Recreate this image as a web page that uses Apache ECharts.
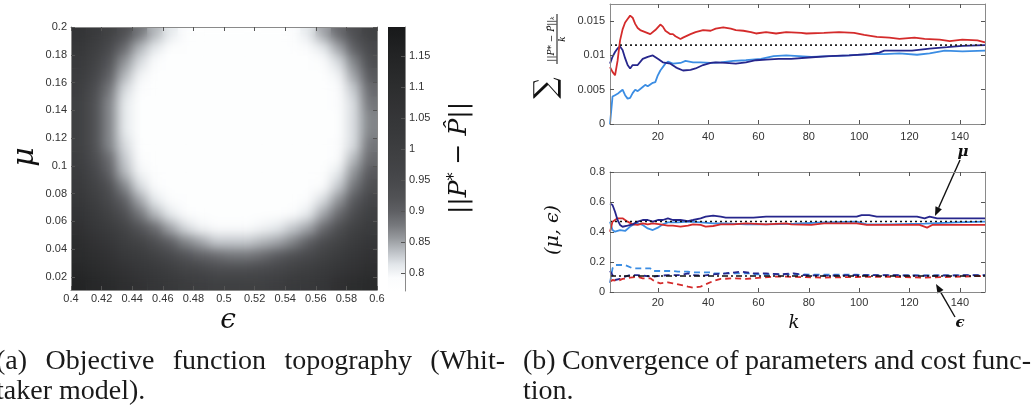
<!DOCTYPE html>
<html>
<head>
<meta charset="utf-8">
<script src="https://cdn.jsdelivr.net/npm/echarts@6/dist/echarts.min.js"></script>
<style>
html, body { margin: 0; padding: 0; background: #fff; }
#wrap { position: relative; width: 1033px; height: 410px; }
#heatSharp, #heatClip { position: absolute; left: 71px; top: 27px; width: 306px; height: 263px; }
#heatClip { overflow: hidden; }
#heatBlur { width: 306px; height: 263px; filter: blur(6px); }
#chart { position: absolute; left: 0; top: 0; width: 1033px; height: 410px; }
</style>
</head>
<body>
<div id="wrap">
  <div id="heatSharp"></div>
  <div id="heatClip"><div id="heatBlur"></div></div>
  <div id="chart"></div>
</div>
<script>
// ---- (a) objective function topography ----
// cell centres of the heat map
const epsCells = [0.405, 0.415, 0.425, 0.435, 0.445, 0.455, 0.465, 0.475, 0.485, 0.495,
                  0.505, 0.515, 0.525, 0.535, 0.545, 0.555, 0.565, 0.575, 0.585, 0.595];
const muCells = [0.015, 0.025, 0.035, 0.045, 0.055, 0.065, 0.075, 0.085, 0.095, 0.105,
                 0.115, 0.125, 0.135, 0.145, 0.155, 0.165, 0.175, 0.185, 0.195];
// ||P* - P^||, one row per mu cell (bottom to top)
const heat = [
  [1.15,1.13,1.11,1.09,1.07,1.05,1.03,1.01,1.00,0.99,0.99,0.99,0.99,1.00,1.02,1.03,1.05,1.08,1.10,1.11],
  [1.13,1.11,1.09,1.07,1.04,1.02,1.00,0.97,0.96,0.94,0.94,0.94,0.95,0.96,0.98,1.00,1.02,1.05,1.07,1.09],
  [1.11,1.09,1.07,1.03,1.01,0.98,0.95,0.92,0.90,0.89,0.88,0.88,0.89,0.91,0.93,0.95,0.98,1.01,1.04,1.07],
  [1.10,1.07,1.04,1.00,0.97,0.93,0.90,0.87,0.85,0.83,0.83,0.83,0.84,0.85,0.87,0.90,0.94,0.97,1.01,1.04],
  [1.08,1.04,1.01,0.97,0.92,0.89,0.85,0.82,0.80,0.79,0.79,0.79,0.80,0.81,0.83,0.85,0.89,0.93,0.98,1.01],
  [1.06,1.02,0.98,0.93,0.88,0.84,0.81,0.79,0.78,0.78,0.78,0.78,0.78,0.78,0.79,0.81,0.85,0.89,0.94,0.99],
  [1.04,1.00,0.95,0.90,0.85,0.81,0.79,0.78,0.78,0.78,0.78,0.78,0.78,0.78,0.78,0.79,0.82,0.86,0.91,0.96],
  [1.02,0.98,0.93,0.87,0.82,0.79,0.78,0.78,0.78,0.78,0.78,0.78,0.78,0.78,0.78,0.78,0.79,0.83,0.88,0.93],
  [1.01,0.96,0.90,0.84,0.80,0.78,0.78,0.78,0.78,0.78,0.78,0.78,0.78,0.78,0.78,0.78,0.78,0.81,0.86,0.91],
  [1.00,0.94,0.89,0.83,0.79,0.78,0.78,0.78,0.78,0.78,0.78,0.78,0.78,0.78,0.78,0.78,0.78,0.79,0.84,0.89],
  [0.99,0.93,0.87,0.82,0.78,0.78,0.78,0.78,0.78,0.78,0.78,0.78,0.78,0.78,0.78,0.78,0.78,0.79,0.82,0.88],
  [0.99,0.93,0.87,0.81,0.78,0.78,0.78,0.78,0.78,0.78,0.78,0.78,0.78,0.78,0.78,0.78,0.78,0.78,0.82,0.87],
  [0.99,0.93,0.87,0.81,0.78,0.78,0.78,0.78,0.78,0.78,0.78,0.78,0.78,0.78,0.78,0.78,0.78,0.78,0.82,0.87],
  [0.99,0.93,0.87,0.81,0.78,0.78,0.78,0.78,0.78,0.78,0.78,0.78,0.78,0.78,0.78,0.78,0.78,0.79,0.82,0.88],
  [1.00,0.94,0.88,0.82,0.79,0.78,0.78,0.78,0.78,0.78,0.78,0.78,0.78,0.78,0.78,0.78,0.78,0.79,0.83,0.89],
  [1.01,0.96,0.90,0.84,0.80,0.78,0.78,0.78,0.78,0.78,0.78,0.78,0.78,0.78,0.78,0.78,0.78,0.80,0.85,0.91],
  [1.02,0.98,0.92,0.86,0.82,0.79,0.78,0.78,0.78,0.78,0.78,0.78,0.78,0.78,0.78,0.78,0.79,0.82,0.87,0.93],
  [1.04,1.00,0.95,0.89,0.84,0.81,0.78,0.78,0.78,0.78,0.78,0.78,0.78,0.78,0.78,0.79,0.81,0.85,0.90,0.95],
  [1.06,1.02,0.98,0.93,0.88,0.84,0.81,0.79,0.78,0.78,0.78,0.78,0.78,0.78,0.79,0.81,0.85,0.89,0.93,0.98]
];
const epsTicks = [0.4, 0.42, 0.44, 0.46, 0.48, 0.5, 0.52, 0.54, 0.56, 0.58, 0.6];
const muTicks = [0.02, 0.04, 0.06, 0.08, 0.1, 0.12, 0.14, 0.16, 0.18, 0.2];
const cbarTicks = [0.8, 0.85, 0.9, 0.95, 1, 1.05, 1.1, 1.15];
const cbarMin = 0.771, cbarMax = 1.197;

// ---- (b) convergence ----
const kTicks = [20, 40, 60, 80, 100, 120, 140];
const costTicks = [0, 0.005, 0.01, 0.015];
const paramTicks = [0, 0.2, 0.4, 0.6, 0.8];

const costRed = [[1,0.0083],[2,0.0076],[3,0.0071],[4,0.0092],[5,0.0122],[6,0.0138],[7,0.0148],[8,0.0153],[9,0.0158],[10,0.0155],
  [11,0.0146],[12,0.0140],[13,0.0137],[15,0.0134],[17,0.0131],[19,0.0137],[21,0.0145],[22,0.0142],[23,0.0136],[25,0.0131],
  [26,0.0131],[27,0.0128],[29,0.0124],[30,0.0126],[33,0.0131],[35,0.0134],[38,0.0137],[41,0.0136],[43,0.0139],[46,0.0141],
  [49,0.0139],[51,0.0137],[54,0.0136],[57,0.0134],[59,0.0132],[63,0.0134],[67,0.0132],[71,0.0134],[77,0.0133],[79,0.0132],
  [86,0.0133],[92,0.0134],[98,0.0133],[102,0.0130],[107,0.0127],[112,0.0126],[116,0.0124],[122,0.0126],[126,0.0124],[132,0.0123],
  [136,0.0121],[141,0.0123],[147,0.0122],[150,0.0119]];
const costNavy = [[1,0.0088],[2,0.0098],[3,0.0105],[4,0.0110],[5,0.0113],[6,0.0108],[7,0.0096],[8,0.0086],[9,0.0081],[10,0.0086],
  [12,0.0086],[14,0.0095],[16,0.0098],[18,0.0100],[20,0.0095],[22,0.0090],[25,0.0088],[27,0.0083],[28,0.0081],[30,0.0078],
  [33,0.0079],[35,0.0081],[38,0.0086],[41,0.0089],[43,0.0090],[47,0.0089],[51,0.0088],[55,0.0090],[59,0.0093],[63,0.0094],
  [68,0.0095],[73,0.0095],[80,0.0097],[88,0.0099],[96,0.0100],[104,0.0102],[108,0.0104],[110,0.0107],[116,0.0107],[121,0.0107],
  [128,0.0110],[135,0.0112],[141,0.0114],[150,0.0115]];
const costLight = [[1,0],[2,0.0040],[3,0.0042],[4,0.0044],[5,0.0047],[6,0.0050],[7,0.0042],[8,0.0037],[9,0.0038],[10,0.0045],
  [11,0.0050],[12,0.0048],[14,0.0054],[15,0.0057],[16,0.0055],[18,0.0060],[19,0.0061],[20,0.0071],[21,0.0078],[23,0.0088],
  [24,0.0091],[26,0.0088],[29,0.0089],[31,0.0092],[34,0.0090],[37,0.0090],[41,0.0089],[45,0.0090],[50,0.0092],[55,0.0093],
  [61,0.0095],[66,0.0099],[71,0.0100],[76,0.0099],[81,0.0098],[89,0.0099],[96,0.0100],[104,0.0102],[110,0.0102],[116,0.0103],
  [123,0.0101],[128,0.0103],[134,0.0107],[141,0.0106],[150,0.0107]];
const costRef = 0.0115;

const muNavy = [[1,0.59],[2,0.58],[3,0.535],[4,0.48],[5,0.447],[6,0.435],[8,0.442],[10,0.451],[12,0.469],[14,0.48],
  [16,0.48],[18,0.469],[20,0.48],[22,0.48],[24,0.491],[26,0.48],[29,0.48],[32,0.473],[34,0.48],[37,0.491],
  [39,0.502],[42,0.509],[45,0.502],[47,0.496],[53,0.496],[58,0.496],[63,0.502],[74,0.502],[99,0.502],[101,0.513],
  [104,0.513],[107,0.502],[123,0.502],[126,0.491],[128,0.502],[131,0.491],[150,0.491]];
const muLight = [[1,0.469],[2,0.413],[3,0.402],[5,0.413],[7,0.407],[9,0.436],[10,0.447],[12,0.458],[14,0.447],[16,0.424],
  [18,0.413],[20,0.429],[22,0.451],[24,0.464],[28,0.464],[32,0.469],[37,0.464],[42,0.458],[47,0.458],[55,0.451],
  [63,0.451],[74,0.455],[86,0.464],[99,0.469],[103,0.451],[112,0.451],[126,0.456],[139,0.464],[150,0.469]];
const muRed = [[1,0.402],[2,0.469],[4,0.491],[6,0.491],[8,0.469],[10,0.451],[12,0.447],[14,0.458],[16,0.451],[18,0.458],
  [21,0.451],[24,0.442],[26,0.442],[29,0.436],[32,0.442],[34,0.451],[37,0.447],[39,0.436],[42,0.44],[45,0.451],
  [50,0.451],[55,0.458],[63,0.451],[71,0.458],[73,0.451],[81,0.447],[86,0.458],[99,0.458],[103,0.447],[124,0.447],
  [127,0.429],[129,0.447],[150,0.447]];
const muRef = 0.47;

const epsLight = [[1,0.06],[2,0.158],[3,0.18],[7,0.18],[10,0.158],[17,0.158],[18,0.14],[26,0.14],[28,0.136],[32,0.136],
  [33,0.131],[41,0.131],[42,0.124],[57,0.124],[58,0.118],[74,0.118],[86,0.115],[99,0.115],[112,0.11],[150,0.11]];
const epsNavy = [[1,0.14],[2,0.113],[3,0.08],[5,0.087],[7,0.102],[9,0.113],[12,0.113],[14,0.109],[18,0.102],[24,0.113],
  [29,0.113],[32,0.124],[34,0.113],[38,0.109],[42,0.118],[47,0.124],[53,0.136],[58,0.124],[63,0.124],[69,0.118],
  [74,0.124],[78,0.113],[86,0.109],[99,0.113],[112,0.113],[126,0.109],[150,0.113]];
const epsRed = [[1,0.069],[2,0.08],[4,0.073],[6,0.087],[9,0.096],[12,0.102],[14,0.091],[17,0.091],[19,0.069],[21,0.058],
  [24,0.064],[26,0.058],[29,0.047],[32,0.036],[34,0.029],[37,0.036],[39,0.051],[42,0.073],[45,0.087],[50,0.091],
  [55,0.087],[61,0.096],[66,0.102],[71,0.102],[86,0.096],[99,0.1],[112,0.102],[126,0.096],[150,0.107]];
const epsRef = 0.107;

// ---- styling ----
const RED = '#d42b2b', NAVY = '#26268c', LIGHT = '#3b8de3';
const grayRamp = ['#ffffff','#fbfcfd','#e2e6ea','#bcc0c5','#96999d','#76787c','#5f6064','#525356','#4a4b4e','#444548',
                  '#404143','#3c3d3f','#38393b','#353638','#323234','#2e2f30','#2a2b2c','#262728','#222324','#1d1e1f','#18191a'];
const labelFont = 'Liberation Sans';
const mathFont = 'DejaVu Serif';
const capFont = '28px "Liberation Serif"';

const heatData = [];
heat.forEach((row, j) => row.forEach((v, i) => heatData.push([i, j, v])));

// the heat map is drawn twice: sharp underneath, blurred on top (the original is a smooth field)
function heatOption() {
  return {
    animation: false,
    grid: { left: 0, top: 0, right: 0, bottom: 0 },
    xAxis: { type: 'category', data: epsCells, show: false },
    yAxis: { type: 'category', data: muCells, show: false },
    visualMap: { show: false, type: 'continuous', min: cbarMin, max: cbarMax, inRange: { color: grayRamp } },
    series: [{ type: 'heatmap', data: heatData, progressive: 0, itemStyle: { borderWidth: 0 } }]
  };
}
echarts.init(document.getElementById('heatSharp')).setOption(heatOption());
echarts.init(document.getElementById('heatBlur')).setOption(heatOption());

function valAxis(gridIndex, position, min, max, ticks, labels, margin) {
  return {
    type: 'value', gridIndex: gridIndex, position: position, min: min, max: max, z: 10,
    axisLine: { show: true, onZero: false, lineStyle: { color: '#8a8a8a', width: 1 } },
    axisTick: { show: true, inside: true, length: 4, customValues: ticks, lineStyle: { color: '#555' } },
    axisLabel: labels ? { show: true, customValues: ticks, margin: margin, color: '#333', fontSize: 11, fontFamily: labelFont }
                      : { show: false },
    splitLine: { show: false }
  };
}

function line(name, data, color, xi, type, width) {
  return {
    name: name, type: 'line', xAxisIndex: xi, yAxisIndex: xi, data: data, showSymbol: false, symbol: 'none',
    lineStyle: { color: color, width: width || 1.8, type: type || 'solid' }, z: 3
  };
}
const refLine = v => [[1, v], [150, v]];

function arrow(x1, y1, x2, y2) {
  const dx = x2 - x1, dy = y2 - y1, L = Math.hypot(dx, dy);
  const ux = dx / L, uy = dy / L, bx = x2 - 9 * ux, by = y2 - 9 * uy;
  return [
    { type: 'line', shape: { x1: x1, y1: y1, x2: bx, y2: by }, style: { stroke: '#111', lineWidth: 1.4 } },
    { type: 'polygon', shape: { points: [[x2, y2], [bx + 3.5 * uy, by - 3.5 * ux], [bx - 3.5 * uy, by + 3.5 * ux]] },
      style: { fill: '#111' } }
  ];
}

function txt(x, y, text, font, opts) {
  return Object.assign({
    type: 'text', x: x, y: y,
    style: { text: text, font: font, fill: '#111', align: 'center', verticalAlign: 'middle',
             textAlign: 'center', textVerticalAlign: 'middle' }
  }, opts || {});
}

// justified caption line: words spread between x0 and x1
const measure = document.createElement('canvas').getContext('2d');
function justified(words, x0, x1, y) {
  measure.font = capFont;
  const w = words.map(s => measure.measureText(s).width);
  const gap = words.length > 1 ? (x1 - x0 - w.reduce((a, b) => a + b, 0)) / (words.length - 1) : 0;
  let x = x0;
  return words.map((s, i) => {
    const el = { type: 'text', x: x, y: y,
      style: { text: s, font: capFont, fill: '#1a1a1a', align: 'left', verticalAlign: 'middle',
               textAlign: 'left', textVerticalAlign: 'middle' } };
    x += w[i] + gap;
    return el;
  });
}

const chart = echarts.init(document.getElementById('chart'));
chart.setOption({
  animation: false,
  backgroundColor: 'transparent',
  grid: [
    { left: 71, top: 27, width: 306, height: 263 },
    { left: 388, top: 27, width: 17, height: 264 },
    { left: 610, top: 4, width: 375, height: 120 },
    { left: 610, top: 172, width: 375, height: 120 }
  ],
  xAxis: [
    valAxis(0, 'bottom', 0.4, 0.6, epsTicks, true, 3),
    valAxis(0, 'top', 0.4, 0.6, epsTicks, false),
    { type: 'value', gridIndex: 1, min: 0, max: 1, show: false },
    valAxis(2, 'bottom', 1, 150, kTicks, true, 7),
    valAxis(2, 'top', 1, 150, kTicks, false),
    valAxis(3, 'bottom', 1, 150, kTicks, true, 5),
    valAxis(3, 'top', 1, 150, kTicks, false)
  ],
  yAxis: [
    valAxis(0, 'left', 0.0105, 0.2, muTicks, true, 4),
    valAxis(0, 'right', 0.0105, 0.2, muTicks, false),
    valAxis(1, 'right', cbarMin, cbarMax, cbarTicks, true, 4),
    valAxis(2, 'left', 0, 0.0175, costTicks, true, 5),
    valAxis(2, 'right', 0, 0.0175, costTicks, false),
    valAxis(3, 'left', 0, 0.8, paramTicks, true, 5),
    valAxis(3, 'right', 0, 0.8, paramTicks, false)
  ],
  series: [
    line('costLight', costLight, LIGHT, 3),
    line('costNavy', costNavy, NAVY, 3),
    line('costRed', costRed, RED, 3),
    line('costRef', refLine(costRef), '#222', 3, [2, 3], 1.6),
    line('muLight', muLight, LIGHT, 5),
    line('muRed', muRed, RED, 5),
    line('muNavy', muNavy, NAVY, 5),
    line('muRef', refLine(muRef), '#111', 5, [2, 3], 1.6),
    line('epsLight', epsLight, LIGHT, 5, [6, 4]),
    line('epsNavy', epsNavy, NAVY, 5, [6, 4]),
    line('epsRed', epsRed, RED, 5, [6, 4]),
    line('epsRef', refLine(epsRef), '#111', 5, [6, 3, 2, 3], 1.4)
  ],
  graphic: [
    // colour bar
    { type: 'rect', x: 388, y: 27, shape: { x: 0, y: 0, width: 17, height: 264 }, z: 1,
      style: { fill: { type: 'linear', x: 0, y: 1, x2: 0, y2: 0,
        colorStops: grayRamp.map((c, i) => ({ offset: i / (grayRamp.length - 1), color: c })) } } },
    // (a) axis names
    txt(25, 157, 'μ', 'italic 30px "' + mathFont + '"', { rotation: Math.PI / 2 }),
    txt(228, 321, 'ϵ', 'italic 28px "' + mathFont + '"'),
    { type: 'text', x: 459, y: 158, rotation: Math.PI / 2,
      style: { text: '||{i|P}{s|*} − {i|P̂}||', font: '25px "' + mathFont + '"', fill: '#111',
               align: 'center', verticalAlign: 'middle', textAlign: 'center', textVerticalAlign: 'middle',
               rich: { i: { fontFamily: mathFont, fontStyle: 'italic', fontSize: 25 },
                       s: { fontFamily: mathFont, fontSize: 16, verticalAlign: 'top', padding: [0, 0, 9, 0] } } } },
    // (b) axis names
    { type: 'group', x: 557, y: 58, rotation: Math.PI / 2, children: [
      txt(-30, -10, '∑', '30px "' + mathFont + '"'),
      txt(19, -5, '||P* − P̂||ₖ', 'italic 9px "' + mathFont + '"'),
      { type: 'line', shape: { x1: -6, y1: 0, x2: 44, y2: 0 }, style: { stroke: '#111', lineWidth: 1 } },
      txt(19, 6, 'k', 'italic 9px "' + mathFont + '"')
    ] },
    txt(553, 230, '(μ, ϵ)', 'italic 19px "' + mathFont + '"', { rotation: Math.PI / 2 }),
    txt(794, 323, 'k', 'italic 18px "' + mathFont + '"'),
    txt(963, 152, 'μ', 'bold italic 15px "' + mathFont + '"'),
    txt(960, 323, 'ϵ', 'bold italic 15px "' + mathFont + '"'),
    ...arrow(960, 160, 935, 216),
    ...arrow(955, 317, 936, 284),
    // captions
    ...justified(['(a)', 'Objective', 'function', 'topography', '(Whit-'], -4, 505, 362),
    ...justified(['taker model).'], -4, 200, 392),
    ...justified(['(b)', 'Convergence', 'of', 'parameters', 'and', 'cost', 'func-'], 523, 1031, 362),
    ...justified(['tion.'], 523, 600, 392)
  ]
});
</script>
</body>
</html>
